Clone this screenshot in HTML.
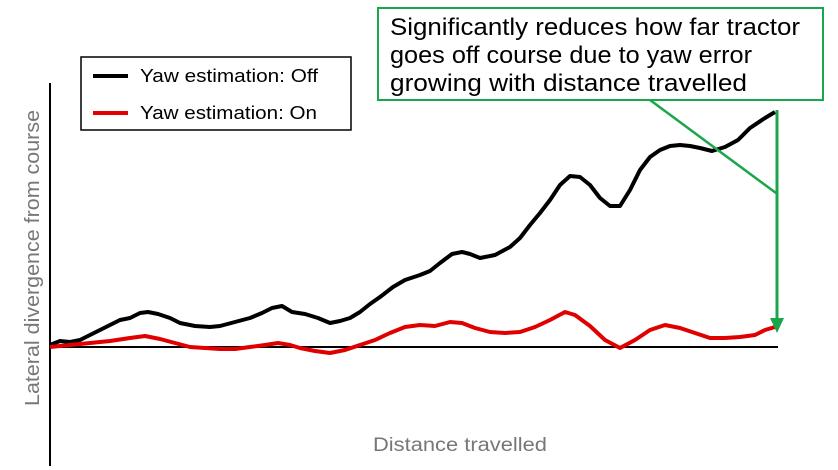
<!DOCTYPE html>
<html><head><meta charset="utf-8"><style>
html,body{margin:0;padding:0;background:#fff;width:838px;height:470px;overflow:hidden}
svg{display:block}
text{font-family:"Liberation Sans","DejaVu Sans",sans-serif}
</style></head><body>
<svg width="838" height="470" viewBox="0 0 838 470" xmlns="http://www.w3.org/2000/svg">
<line x1="50" y1="83" x2="50" y2="466" stroke="#000" stroke-width="2"/>
<line x1="50" y1="347" x2="778" y2="347" stroke="#000" stroke-width="2"/>
<polyline fill="none" stroke="#000" stroke-width="4" stroke-linejoin="round" points="50,345 60,341 70,342 80,340 90,335 100,330 110,325 120,320 130,318 140,313 148,312 158,314 170,318 180,323 195,326 210,327 220,326 235,322 250,318 262,313 272,308 282,306 292,312 305,314 318,318 330,323 340,321 350,318 360,312 370,304 380,297 393,287 405,280 420,275 430,271 440,263 452,254 462,252 470,254 480,258 495,255 510,247 520,238 530,225 540,213 550,200 560,185 570,176 580,177 590,185 600,198 610,206 620,206 630,190 640,170 650,157 660,150 670,146 680,145 690,146 700,148 712,151 725,147 738,140 750,128 765,118 775,112"/>
<polyline fill="none" stroke="#e00000" stroke-width="4" stroke-linejoin="round" points="50,347 70,345 90,343 110,341 130,338 145,336 160,339 175,343 190,347 205,348 220,349 235,349 250,347 265,345 278,343 290,345 300,348 315,351 330,353 345,350 360,345 375,340 390,333 405,327 420,325 435,326 450,322 462,323 475,328 490,332 505,333 520,332 535,327 550,320 565,312 575,315 590,326 605,340 620,348 635,340 650,330 665,325 680,328 695,333 710,338 725,338 740,337 755,335 765,330 775,327"/>
<rect x="81" y="57" width="270" height="73" fill="#fff" stroke="#000" stroke-width="1.5"/>
<line x1="93" y1="76" x2="128" y2="76" stroke="#000" stroke-width="4"/>
<line x1="93" y1="113" x2="128" y2="113" stroke="#e00000" stroke-width="4"/>
<text x="140" y="82" font-size="18" fill="#000" textLength="178" lengthAdjust="spacingAndGlyphs">Yaw estimation: Off</text>
<text x="140" y="119" font-size="18" fill="#000" textLength="177" lengthAdjust="spacingAndGlyphs">Yaw estimation: On</text>
<rect x="378" y="8" width="445" height="92" fill="#fff" stroke="#1aa64a" stroke-width="2"/>
<text x="390" y="35" font-size="24" fill="#000" textLength="410" lengthAdjust="spacingAndGlyphs">Significantly reduces how far tractor</text>
<text x="390" y="63" font-size="24" fill="#000" textLength="362" lengthAdjust="spacingAndGlyphs">goes off course due to yaw error</text>
<text x="390" y="91" font-size="24" fill="#000" textLength="357" lengthAdjust="spacingAndGlyphs">growing with distance travelled</text>
<line x1="650" y1="100" x2="776" y2="193" stroke="#1aa64a" stroke-width="2.5"/>
<line x1="777" y1="110" x2="777" y2="320" stroke="#1aa64a" stroke-width="3"/>
<polygon points="770,318 784,318 777,333" fill="#1aa64a"/>
<text x="460" y="451" font-size="19" fill="#777" text-anchor="middle" textLength="174" lengthAdjust="spacingAndGlyphs">Distance travelled</text>
<text transform="translate(39,258) rotate(-90)" font-size="20" fill="#777" text-anchor="middle" textLength="296" lengthAdjust="spacingAndGlyphs">Lateral divergence from course</text>
</svg>
</body></html>
